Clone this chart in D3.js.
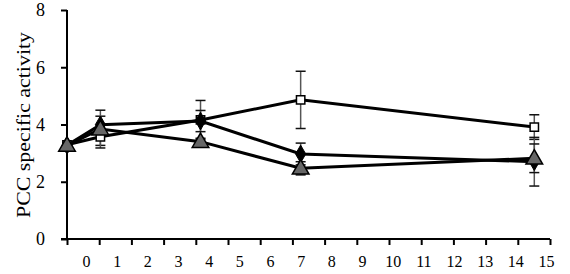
<!DOCTYPE html>
<html>
<head>
<meta charset="utf-8">
<script src="https://cdn.jsdelivr.net/npm/d3@7"></script>
<style>
  body { margin: 0; background: #fff; }
  svg text { font-family: "Liberation Serif", "DejaVu Serif", serif; }
</style>
</head>
<body>
<div id="chart"></div>
<script>
// days sampled
const days = [0, 1, 4, 7, 14]
// x-axis text labels (evenly spread, not aligned to ticks in the source)
const xLabels = d3.range(0, 16)
const yTicks = [0, 2, 4, 6, 8]

const squareVals = [3.29, 3.57, 4.16, 4.86, 3.91]
const squareErr = [0.08, 0.3, 0.68, 1.0, 0.43]
const blackVals = [3.27, 3.99, 4.12, 2.97, 2.7]
const blackErr = [0.08, 0.3, 0.37, 0.38, 0.85]
const triVals = [3.27, 3.84, 3.4, 2.47, 2.82]
const triErr = [0.08, 0.66, 0.12, 0.23, 0.5]

const svgWidth = 570
const svgHeight = 274

const svg = d3.select('#chart').append('svg')
    .attr('width', svgWidth)
    .attr('height', svgHeight)

const yScale = d3.scaleLinear().domain([0, 8]).range([239, 10])
const xScale = d3.scaleLinear().domain([0, 14]).range([67, 534.3])
const tickScale = d3.scaleLinear().domain([0, 15]).range([67, 550])
const labelScale = d3.scalePoint().domain(xLabels).range([86, 546])

// y axis
const yAxis = d3.axisLeft(yScale).tickValues(yTicks).tickSize(6).tickPadding(16)
const gy = svg.append('g')
    .attr('transform', 'translate(67,0)')
    .call(yAxis)
gy.select('.domain').attr('stroke', '#000').attr('stroke-width', 2).attr('d', 'M0,10V239')
gy.selectAll('.tick line').attr('stroke', '#000').attr('stroke-width', 2)
gy.selectAll('.tick text').attr('fill', '#000')
    .style('font-size', '18px')
    .style('font-family', '"Liberation Serif", serif')

// x axis: tick marks
const xAxis = d3.axisBottom(tickScale).ticks(15).tickSize(6).tickFormat('')
const gx = svg.append('g')
    .attr('transform', 'translate(0,239)')
    .call(xAxis)
gx.select('.domain').attr('stroke', '#000').attr('stroke-width', 2).attr('d', 'M61,0H550')
gx.selectAll('.tick line').attr('stroke', '#000').attr('stroke-width', 2)

// x axis: labels
const gl = svg.append('g')
    .attr('transform', 'translate(0,256)')
    .call(d3.axisBottom(labelScale).tickSize(0).tickPadding(0))
gl.select('.domain').remove()
gl.selectAll('.tick text').attr('fill', '#000')
    .style('font-size', '16px')
    .style('font-family', '"Liberation Serif", serif')

// y title
svg.append('text')
    .attr('transform', 'translate(30,125) rotate(-90)')
    .attr('text-anchor', 'middle')
    .attr('textLength', 186)
    .attr('lengthAdjust', 'spacingAndGlyphs')
    .style('font-size', '18px')
    .attr('fill', '#000')
    .text('PCC specific activity')

const line = d3.line()
    .x(function (d) { return xScale(d.x) })
    .y(function (d) { return yScale(d.y) })

const series = [
    { vals: squareVals, err: squareErr, shape: 'square' },
    { vals: blackVals, err: blackErr, shape: 'diamond' },
    { vals: triVals, err: triErr, shape: 'triangle' }
]

series.forEach(function (s) {
    s.pts = days.map(function (d, i) { return { x: d, y: s.vals[i], e: s.err[i] } })
})

// error bars
series.forEach(function (s) {
    const g = svg.append('g')
    s.pts.forEach(function (p) {
        const cx = xScale(p.x)
        g.append('line')
            .attr('x1', cx).attr('x2', cx)
            .attr('y1', yScale(p.y + p.e)).attr('y2', yScale(p.y - p.e))
            .attr('stroke', '#555').attr('stroke-width', 1.5)
        ;[p.y + p.e, p.y - p.e].forEach(function (v) {
            g.append('line')
                .attr('x1', cx - 5).attr('x2', cx + 5)
                .attr('y1', yScale(v)).attr('y2', yScale(v))
                .attr('stroke', '#111').attr('stroke-width', 1.5)
        })
    })
})

// lines
series.forEach(function (s) {
    svg.append('path')
        .attr('d', line(s.pts))
        .attr('fill', 'none')
        .attr('stroke', '#000')
        .attr('stroke-width', 3)
})

// markers
const symSquare = d3.symbol().type(d3.symbolSquare).size(70)
const symDiamond = d3.symbol().type(d3.symbolDiamond).size(90)
const symTri = d3.symbol().type(d3.symbolTriangle).size(120)

series.forEach(function (s) {
    s.pts.forEach(function (p) {
        const t = 'translate(' + xScale(p.x) + ',' + yScale(p.y) + ')'
        if (s.shape === 'square') {
            svg.append('path').attr('d', symSquare()).attr('transform', t)
                .attr('fill', '#fff').attr('stroke', '#000').attr('stroke-width', 1.5)
        } else if (s.shape === 'diamond') {
            svg.append('path').attr('d', symDiamond()).attr('transform', t)
                .attr('fill', '#000').attr('stroke', '#000').attr('stroke-width', 1)
        } else {
            svg.append('path').attr('d', symTri()).attr('transform', t + ' translate(0,1)')
                .attr('fill', '#666').attr('stroke', '#000').attr('stroke-width', 1.5)
        }
    })
})
</script>
</body>
</html>
